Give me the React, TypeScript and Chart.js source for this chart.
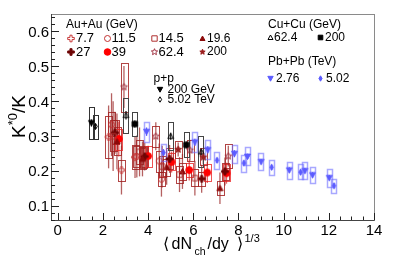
import React, { useEffect, useRef } from "react";
import { Chart, registerables } from "chart.js";
Chart.register(...registerables);

// ---------- axis ticks ----------
const xTickValues = [0, 2, 4, 6, 8, 10, 12, 14];
const xTickLabels = ["0", "2", "4", "6", "8", "10", "12", "14"];
const yTickValues = [0.1, 0.2, 0.3, 0.4, 0.5, 0.6];
const yTickLabels = ["0.1", "0.2", "0.3", "0.4", "0.5", "0.6"];

// ---------- data ----------
// Au+Au 7.7 GeV
const aa7X = [2.25, 2.82, 3.42];
const aa7Y = [0.298, 0.203, 0.24];
const aa7Stat = [0.09, 0.07, 0.06];
const aa7Sys = [0.06, 0.03, 0.035];
// Au+Au 11.5 GeV
const aa11X = [2.38, 3.5, 4.49, 4.59];
const aa11Y = [0.333, 0.242, 0.229, 0.177];
const aa11Stat = [0.09, 0.06, 0.05, 0.05];
const aa11Sys = [0.035, 0.03, 0.03, 0.02];
// Au+Au 14.5 GeV
const aa14X = [2.45, 3.62, 4.62, 5.39, 6.07];
const aa14Y = [0.3, 0.255, 0.213, 0.19, 0.18];
const aa14Stat = [0.1, 0.07, 0.06, 0.05, 0.05];
const aa14Sys = [0.045, 0.035, 0.03, 0.025, 0.025];
// Au+Au 19.6 GeV
const aa19X = [2.62, 3.75, 4.82, 5.52, 7.18];
const aa19Y = [0.285, 0.235, 0.211, 0.199, 0.151];
const aa19Stat = [0.08, 0.05, 0.05, 0.05, 0.045];
const aa19Sys = [0.04, 0.03, 0.025, 0.025, 0.02];
// Au+Au 27 GeV
const aa27X = [2.53, 3.85, 4.95, 6.37, 7.4];
const aa27Y = [0.31, 0.242, 0.235, 0.178, 0.199];
const aa27Stat = [0.06, 0.04, 0.04, 0.04, 0.04];
const aa27Sys = [0.035, 0.03, 0.03, 0.02, 0.025];
// Au+Au 39 GeV
const aa39X = [2.7, 4.0, 5.04, 5.82, 6.62, 7.47];
const aa39Y = [0.292, 0.243, 0.226, 0.203, 0.196, 0.194];
const aa39Stat = [0.05, 0.03, 0.03, 0.03, 0.03, 0.03];
const aa39Sys = [0.03, 0.03, 0.025, 0.02, 0.025, 0.025];
// Au+Au 62.4 GeV
const aa62X = [2.93, 4.34, 5.85, 7.55];
const aa62Y = [0.441, 0.3, 0.26, 0.243];
const aa62Stat = [0.06, 0.04, 0.03, 0.03];
const aa62Sys = [0.07, 0.03, 0.03, 0.034];
// Au+Au 200 GeV
const aa200X = [3.78, 5.33, 6.44];
const aa200Y = [0.24, 0.262, 0.24];
const aa200Stat = [0.03, 0.02, 0.02];
const aa200Sys = [0.03, 0.025, 0.025];
// Cu+Cu 62.4 GeV
const cu62X = [3.02, 5.0, 6.35];
const cu62Y = [0.36, 0.3, 0.255];
const cu62Stat = [0.012, 0.01, 0.01];
const cu62Sys = [0.05, 0.04, 0.045];
// Cu+Cu 200 GeV
const cu200X = [3.41, 5.69];
const cu200Y = [0.335, 0.275];
const cu200Stat = [0.01, 0.01];
const cu200Sys = [0.034, 0.036];
// Pb+Pb 2.76 TeV
const pb276X = [3.93, 6.07, 6.64, 7.82, 8.4, 9.0, 10.25, 10.94, 11.28, 12.02];
const pb276Y = [0.313, 0.283, 0.261, 0.25, 0.242, 0.227, 0.203, 0.201, 0.189, 0.181];
const pb276Stat = [0.012, 0.01, 0.01, 0.01, 0.008, 0.008, 0.008, 0.008, 0.008, 0.008];
const pb276Sys = [0.029, 0.028, 0.027, 0.026, 0.026, 0.025, 0.024, 0.024, 0.023, 0.026];
// Pb+Pb 5.02 TeV
const pb502X = [4.68, 7.05, 8.24, 9.47, 10.75, 12.23];
const pb502Y = [0.253, 0.231, 0.223, 0.211, 0.197, 0.158];
const pb502Stat = [0.01, 0.008, 0.008, 0.008, 0.008, 0.008];
const pb502Sys = [0.025, 0.024, 0.024, 0.022, 0.022, 0.02];
// p+p
const pp200X = [1.49];
const pp200Y = [0.338];
const pp200Stat = [0.01];
const pp200Sys = [0.046];
const pp502X = [1.67];
const pp502Y = [0.328];
const pp502Stat = [0.008];
const pp502Sys = [0.034];

// ---------- marker drawing ----------
function drawShape(ctx: CanvasRenderingContext2D, shape: string, cx: number, cy: number, r: number, color: string, filled: boolean, lw: number) {
  ctx.save();
  ctx.beginPath();
  if (shape === "circle") {
    ctx.arc(cx, cy, r, 0, Math.PI * 2);
  } else if (shape === "square") {
    ctx.rect(cx - r, cy - r, 2 * r, 2 * r);
  } else if (shape === "triUp") {
    ctx.moveTo(cx, cy - r);
    ctx.lineTo(cx + r, cy + r * 0.8);
    ctx.lineTo(cx - r, cy + r * 0.8);
    ctx.closePath();
  } else if (shape === "triDown") {
    ctx.moveTo(cx, cy + r);
    ctx.lineTo(cx + r, cy - r * 0.8);
    ctx.lineTo(cx - r, cy - r * 0.8);
    ctx.closePath();
  } else if (shape === "diamond") {
    ctx.moveTo(cx, cy - r);
    ctx.lineTo(cx + r * 0.6, cy);
    ctx.lineTo(cx, cy + r);
    ctx.lineTo(cx - r * 0.6, cy);
    ctx.closePath();
  } else if (shape === "plus") {
    const t = r * 0.32;
    const pts = [[-t, -r], [t, -r], [t, -t], [r, -t], [r, t], [t, t], [t, r], [-t, r], [-t, t], [-r, t], [-r, -t], [-t, -t]];
    pts.forEach((p, i) => (i ? ctx.lineTo(cx + p[0], cy + p[1]) : ctx.moveTo(cx + p[0], cy + p[1])));
    ctx.closePath();
  } else if (shape === "star") {
    for (let i = 0; i < 10; i++) {
      const a = -Math.PI / 2 + (i * Math.PI) / 5;
      const rr = i % 2 ? r * 0.45 : r;
      const px = cx + rr * Math.cos(a);
      const py = cy + rr * Math.sin(a);
      if (i === 0) ctx.moveTo(px, py);
      else ctx.lineTo(px, py);
    }
    ctx.closePath();
  }
  if (filled) {
    ctx.fillStyle = color;
    ctx.fill();
  }
  ctx.strokeStyle = color;
  ctx.lineWidth = lw;
  ctx.stroke();
  ctx.restore();
}

function makeMarker(shape: string, r: number, color: string, filled: boolean, lw: number) {
  const size = Math.ceil(2 * r + lw + 2);
  const c = document.createElement("canvas");
  c.width = size;
  c.height = size;
  const g = c.getContext("2d")!;
  drawShape(g, shape, size / 2, size / 2, r, color, filled, lw);
  return c;
}

type Series = {
  label: string; xs: number[]; ys: number[]; stat: number[]; sys: number[];
  shape: string; filled: boolean; color: string; r: number; lw: number;
  boxColor: string; boxLw: number; barColor: string; boxW: number;
};

const AA_BOX = "rgba(165,35,35,0.85)";
const AA_BAR = "rgba(150,30,30,0.7)";
const BLUE = "#5c5cff";
const BLUE_BOX = "rgba(110,110,255,0.6)";

const series: Series[] = [
  { label: "7.7", xs: aa7X, ys: aa7Y, stat: aa7Stat, sys: aa7Sys, shape: "plus", filled: false, color: "#c83a3a", r: 3.3, lw: 1, boxColor: AA_BOX, boxLw: 1, barColor: AA_BAR, boxW: 0.15 },
  { label: "11.5", xs: aa11X, ys: aa11Y, stat: aa11Stat, sys: aa11Sys, shape: "circle", filled: false, color: "#c03030", r: 3, lw: 1, boxColor: AA_BOX, boxLw: 1, barColor: AA_BAR, boxW: 0.15 },
  { label: "14.5", xs: aa14X, ys: aa14Y, stat: aa14Stat, sys: aa14Sys, shape: "square", filled: false, color: "#b03030", r: 2.7, lw: 1, boxColor: AA_BOX, boxLw: 1, barColor: AA_BAR, boxW: 0.15 },
  { label: "19.6", xs: aa19X, ys: aa19Y, stat: aa19Stat, sys: aa19Sys, shape: "triUp", filled: true, color: "#8b0a0a", r: 3, lw: 1, boxColor: AA_BOX, boxLw: 1, barColor: AA_BAR, boxW: 0.15 },
  { label: "27", xs: aa27X, ys: aa27Y, stat: aa27Stat, sys: aa27Sys, shape: "plus", filled: true, color: "#6e0505", r: 3.3, lw: 1, boxColor: AA_BOX, boxLw: 1, barColor: AA_BAR, boxW: 0.15 },
  { label: "39", xs: aa39X, ys: aa39Y, stat: aa39Stat, sys: aa39Sys, shape: "circle", filled: true, color: "#ff0000", r: 3.4, lw: 1, boxColor: "rgba(235,40,40,0.8)", boxLw: 1, barColor: "rgba(220,30,30,0.7)", boxW: 0.15 },
  { label: "62.4", xs: aa62X, ys: aa62Y, stat: aa62Stat, sys: aa62Sys, shape: "star", filled: false, color: "#a03040", r: 3.6, lw: 1, boxColor: AA_BOX, boxLw: 1, barColor: AA_BAR, boxW: 0.15 },
  { label: "200", xs: aa200X, ys: aa200Y, stat: aa200Stat, sys: aa200Sys, shape: "star", filled: true, color: "#9a1c1c", r: 3.6, lw: 1, boxColor: AA_BOX, boxLw: 1, barColor: AA_BAR, boxW: 0.15 },
  { label: "Cu62.4", xs: cu62X, ys: cu62Y, stat: cu62Stat, sys: cu62Sys, shape: "triUp", filled: false, color: "#000000", r: 2.8, lw: 1, boxColor: "#444444", boxLw: 1, barColor: "#222222", boxW: 0.12 },
  { label: "Cu200", xs: cu200X, ys: cu200Y, stat: cu200Stat, sys: cu200Sys, shape: "square", filled: true, color: "#000000", r: 2.6, lw: 1, boxColor: "#444444", boxLw: 1, barColor: "#222222", boxW: 0.12 },
  { label: "Pb2.76", xs: pb276X, ys: pb276Y, stat: pb276Stat, sys: pb276Sys, shape: "triDown", filled: true, color: BLUE, r: 3, lw: 1, boxColor: BLUE_BOX, boxLw: 1.5, barColor: BLUE, boxW: 0.12 },
  { label: "Pb5.02", xs: pb502X, ys: pb502Y, stat: pb502Stat, sys: pb502Sys, shape: "diamond", filled: true, color: BLUE, r: 3, lw: 1, boxColor: BLUE_BOX, boxLw: 1.5, barColor: BLUE, boxW: 0.12 },
  { label: "pp200", xs: pp200X, ys: pp200Y, stat: pp200Stat, sys: pp200Sys, shape: "triDown", filled: true, color: "#000000", r: 3, lw: 1, boxColor: "#333333", boxLw: 1, barColor: "#111111", boxW: 0.1 },
  { label: "pp5.02", xs: pp502X, ys: pp502Y, stat: pp502Stat, sys: pp502Sys, shape: "diamond", filled: false, color: "#000000", r: 3, lw: 1, boxColor: "#333333", boxLw: 1, barColor: "#111111", boxW: 0.1 },
];

const FONT = "'Liberation Sans', Arial, Helvetica, sans-serif";

const errorPlugin = {
  id: "errorBoxes",
  beforeDatasetsDraw(chart: any) {
    const { ctx, chartArea, scales } = chart;
    const xs = scales.x, ys = scales.y;
    ctx.save();
    ctx.beginPath();
    ctx.rect(chartArea.left, chartArea.top, chartArea.right - chartArea.left, chartArea.bottom - chartArea.top);
    ctx.clip();
    chart.data.datasets.forEach((ds: any) => {
      ds.data.forEach((p: any, i: number) => {
        const px = xs.getPixelForValue(p.x);
        const x0 = xs.getPixelForValue(p.x - ds.boxW);
        const x1 = xs.getPixelForValue(p.x + ds.boxW);
        const yTop = ys.getPixelForValue(p.y + ds.sys[i]);
        const yBot = ys.getPixelForValue(p.y - ds.sys[i]);
        ctx.strokeStyle = ds.boxColor;
        ctx.lineWidth = ds.boxLw;
        ctx.strokeRect(Math.round(x0) + 0.5, Math.round(yTop) + 0.5, Math.round(x1 - x0), Math.round(yBot - yTop));
        const sTop = ys.getPixelForValue(p.y + ds.stat[i]);
        const sBot = ys.getPixelForValue(p.y - ds.stat[i]);
        ctx.strokeStyle = ds.barColor;
        ctx.lineWidth = 1.3;
        ctx.beginPath();
        ctx.moveTo(px, sTop);
        ctx.lineTo(px, sBot);
        ctx.stroke();
      });
    });
    ctx.restore();
  },
};

function legendText(ctx: CanvasRenderingContext2D, text: string, x: number, y: number, size: number) {
  ctx.font = `${size}px ${FONT}`;
  ctx.fillStyle = "#000";
  ctx.textAlign = "left";
  ctx.textBaseline = "middle";
  ctx.fillText(text, x, y);
}

const framePlugin = {
  id: "frameAxes",
  afterDraw(chart: any) {
    const { ctx, chartArea, scales } = chart;
    const { left, right, top, bottom } = chartArea;
    const xs = scales.x, ys = scales.y;
    ctx.save();
    // frame
    ctx.lineWidth = 1;
    ctx.strokeStyle = "#8a8a8a";
    ctx.strokeRect(left + 0.5, top + 0.5, right - left, bottom - top);
    ctx.strokeStyle = "#444";
    ctx.beginPath();
    ctx.moveTo(left + 0.5, top);
    ctx.lineTo(left + 0.5, bottom + 0.5);
    ctx.lineTo(right + 0.5, bottom + 0.5);
    ctx.stroke();
    // ticks
    ctx.strokeStyle = "#222";
    ctx.beginPath();
    for (let v = 0; v <= 14.001; v += 0.5) {
      const px = Math.round(xs.getPixelForValue(v)) + 0.5;
      const major = Math.abs(v / 2 - Math.round(v / 2)) < 1e-6;
      ctx.moveTo(px, bottom);
      ctx.lineTo(px, bottom - (major ? 7 : 3.5));
    }
    for (let k = 3; k <= 32; k++) {
      const v = k * 0.02;
      const py = Math.round(ys.getPixelForValue(v)) + 0.5;
      const major = k % 5 === 0;
      ctx.moveTo(left, py);
      ctx.lineTo(left + (major ? 8 : 4), py);
    }
    ctx.stroke();
    // tick labels
    ctx.fillStyle = "#000";
    ctx.font = `15px ${FONT}`;
    ctx.textBaseline = "alphabetic";
    ctx.textAlign = "center";
    xTickValues.forEach((v, i) => ctx.fillText(xTickLabels[i], xs.getPixelForValue(v), 235));
    ctx.textAlign = "right";
    yTickValues.forEach((v, i) => ctx.fillText(yTickLabels[i], 49, ys.getPixelForValue(v) + 5.3));

    // x title: ⟨ dN_ch/dy ⟩^(1/3)
    const base = 249;
    ctx.textAlign = "left";
    ctx.font = `16px ${FONT}`;
    ctx.fillText("\u27E8", 163, base);
    ctx.fillText("dN", 171.5, base);
    ctx.font = `10.5px ${FONT}`;
    ctx.fillText("ch", 194.5, base + 5.5);
    ctx.font = `16px ${FONT}`;
    ctx.fillText("/dy", 207.5, base);
    ctx.fillText("\u27E9", 236.5, base);
    ctx.font = `11px ${FONT}`;
    ctx.fillText("1/3", 244.5, base - 7.5);

    // y title: K*0/K
    ctx.save();
    ctx.translate(25, 116.5);
    ctx.rotate(-Math.PI / 2);
    ctx.font = `19px ${FONT}`;
    const wK = ctx.measureText("K").width;
    const wSK = ctx.measureText("/K").width;
    ctx.font = `13px ${FONT}`;
    const wSup = ctx.measureText("*0").width;
    let tx = -(wK + wSup + wSK) / 2;
    ctx.textAlign = "left";
    ctx.font = `19px ${FONT}`;
    ctx.fillText("K", tx, 0);
    tx += wK;
    ctx.font = `13px ${FONT}`;
    ctx.fillText("*0", tx, -8);
    tx += wSup;
    ctx.font = `19px ${FONT}`;
    ctx.fillText("/K", tx, 0);
    ctx.restore();

    // legend
    const S = (name: string) => series.find((s) => s.label === name)!;
    const mark = (name: string, x: number, y: number, r?: number) => {
      const s = S(name);
      drawShape(ctx, s.shape, x, y, r ?? Math.min(s.r, 3.3), s.color, s.filled, s.lw);
    };
    legendText(ctx, "Au+Au (GeV)", 66, 24.5, 12);
    const aaCols = [[71, 76], [107.5, 111.5], [154.5, 158.5], [202.5, 207]];
    const row1 = ["7.7", "11.5", "14.5", "19.6"];
    const row2 = ["27", "39", "62.4", "200"];
    row1.forEach((n, i) => { mark(n, aaCols[i][0], 38.5, i === 3 ? 2.5 : undefined); legendText(ctx, n, aaCols[i][1], 38.5, i === 3 ? 12 : 13); });
    row2.forEach((n, i) => { mark(n, aaCols[i][0], 52, i === 3 ? 2.8 : undefined); legendText(ctx, n, aaCols[i][1], 52, i === 3 ? 12 : 13); });

    legendText(ctx, "Cu+Cu (GeV)", 268, 24.5, 12);
    mark("Cu62.4", 270.5, 37.5, 2.5);
    legendText(ctx, "62.4", 274, 37.5, 12);
    mark("Cu200", 320.5, 37.5, 2.3);
    legendText(ctx, "200", 325, 37.5, 12);

    legendText(ctx, "Pb+Pb (TeV)", 268, 62, 12);
    mark("Pb2.76", 270.5, 78.5, 2.7);
    legendText(ctx, "2.76", 276, 78.5, 12);
    mark("Pb5.02", 320.5, 78.5, 2.7);
    legendText(ctx, "5.02", 326, 78.5, 12);

    legendText(ctx, "p+p", 153.5, 78.5, 12);
    mark("pp200", 160, 89.5, 2.7);
    legendText(ctx, "200 GeV", 167.5, 89.5, 12);
    mark("pp5.02", 160, 99.5, 2.7);
    legendText(ctx, "5.02 TeV", 167.5, 99.5, 12);

    ctx.restore();
  },
};

export default function App() {
  const ref = useRef<HTMLCanvasElement | null>(null);
  useEffect(() => {
    document.body.style.margin = "0";
    const canvas = ref.current!;
    const datasets = series.map((s) => ({
      label: s.label,
      data: s.xs.map((x, i) => ({ x, y: s.ys[i] })),
      stat: s.stat,
      sys: s.sys,
      boxColor: s.boxColor,
      boxLw: s.boxLw,
      barColor: s.barColor,
      boxW: s.boxW,
      pointStyle: makeMarker(s.shape, s.r, s.color, s.filled, s.lw),
      pointRadius: s.r,
      showLine: false,
    }));
    const chart = new Chart(canvas, {
      type: "scatter",
      data: { datasets: datasets as any },
      options: {
        responsive: false,
        animation: false,
        layout: { padding: { left: 51, right: 20, top: 14, bottom: 49 } },
        plugins: { legend: { display: false }, tooltip: { enabled: false } },
        scales: {
          x: { type: "linear", min: -0.3, max: 14, display: false },
          y: { type: "linear", min: 0.06, max: 0.65, display: false },
        },
      },
      plugins: [errorPlugin, framePlugin],
    });
    return () => chart.destroy();
  }, []);
  return (
    <div style={{ width: 394, height: 269, background: "#fff" }}>
      <canvas ref={ref} width={394} height={269} style={{ display: "block" }} />
    </div>
  );
}
